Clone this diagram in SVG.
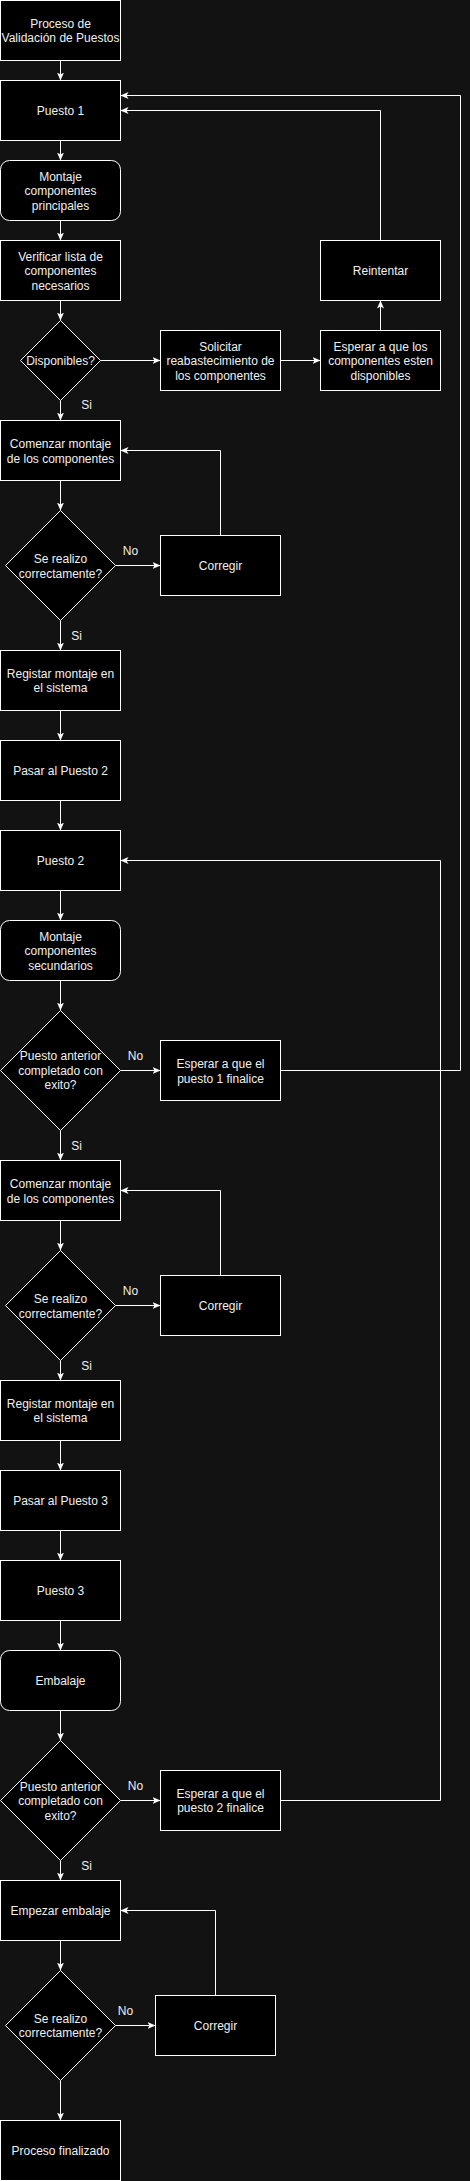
<svg xmlns="http://www.w3.org/2000/svg" width="470" height="2181" viewBox="0 0 470 2181">
<style>
.n{fill:#000000;stroke:#ffffff;stroke-width:1}
.t{font-family:"Liberation Sans",Arial,sans-serif;font-size:12px;fill:#f0f0f0;text-anchor:middle}
.c{fill:none;stroke:#ffffff;stroke-width:1}
.a{marker-end:url(#arr)}
</style>
<defs>
<marker id="arr" viewBox="0 0 8 8" refX="8" refY="4" markerWidth="8" markerHeight="8" orient="auto" markerUnits="userSpaceOnUse">
<path d="M0,0.5 L8,4 L0,7.5 L2,4 Z" fill="#ffffff"/>
</marker>
</defs>
<rect x="0" y="0" width="470" height="2181" fill="#121212"/>
<g transform="translate(0.5,0.5)">
<g id="connectors">
<path class="c a" d="M60,60 V80"/>
<path class="c a" d="M60,140 V160"/>
<path class="c a" d="M60,220 V240"/>
<path class="c a" d="M60,300 V320"/>
<path class="c a" d="M100,360 H160"/>
<path class="c a" d="M280,360 H320"/>
<path class="c a" d="M380,330 V300"/>
<path class="c a" d="M380,240 V110 H120"/>
<path class="c a" d="M60,400 V420"/>
<path class="c a" d="M60,480 V510"/>
<path class="c a" d="M115,565 H160"/>
<path class="c a" d="M220,535 V450 H120"/>
<path class="c a" d="M60,620 V650"/>
<path class="c a" d="M60,710 V740"/>
<path class="c a" d="M60,800 V830"/>
<path class="c a" d="M60,890 V920"/>
<path class="c a" d="M60,980 V1010"/>
<path class="c a" d="M120,1070 H160"/>
<path class="c a" d="M280,1070 H460 V95 H120"/>
<path class="c a" d="M60,1130 V1160"/>
<path class="c a" d="M60,1220 V1250"/>
<path class="c a" d="M115,1305 H160"/>
<path class="c a" d="M220,1275 V1190 H120"/>
<path class="c a" d="M60,1360 V1380"/>
<path class="c a" d="M60,1440 V1470"/>
<path class="c a" d="M60,1530 V1560"/>
<path class="c a" d="M60,1620 V1650"/>
<path class="c a" d="M60,1710 V1740"/>
<path class="c a" d="M120,1800 H160"/>
<path class="c a" d="M280,1800 H440 V860 H120"/>
<path class="c a" d="M60,1860 V1880"/>
<path class="c a" d="M60,1940 V1970"/>
<path class="c a" d="M115,2025 H155"/>
<path class="c a" d="M215,1995 V1910 H120"/>
<path class="c a" d="M60,2080 V2120"/>
<text class="t" x="86" y="408">Si</text>
<text class="t" x="130" y="554">No</text>
<text class="t" x="76" y="639">Si</text>
<text class="t" x="135" y="1059">No</text>
<text class="t" x="76" y="1149">Si</text>
<text class="t" x="130" y="1294">No</text>
<text class="t" x="86" y="1369">Si</text>
<text class="t" x="135" y="1789">No</text>
<text class="t" x="86" y="1869">Si</text>
<text class="t" x="125" y="2014">No</text>
</g>
<g id="start"><rect class="n" x="0" y="0" width="120" height="60"/><text class="t" x="60" y="27">Proceso de</text><text class="t" x="60" y="41.5">Validación de Puestos</text></g>
<g id="puesto1"><rect class="n" x="0" y="80" width="120" height="60"/><text class="t" x="60" y="114">Puesto 1</text></g>
<g id="montaje1"><rect class="n" x="0" y="160" width="120" height="60" rx="9"/><text class="t" x="60" y="180">Montaje</text><text class="t" x="60" y="194.5">componentes</text><text class="t" x="60" y="209">principales</text></g>
<g id="verificar"><rect class="n" x="0" y="240" width="120" height="60"/><text class="t" x="60" y="260">Verificar lista de</text><text class="t" x="60" y="274.5">componentes</text><text class="t" x="60" y="289">necesarios</text></g>
<g id="disponibles"><polygon class="n" points="60,320 100,360 60,400 20,360"/><text class="t" x="60" y="364">Disponibles?</text></g>
<g id="solicitar"><rect class="n" x="160" y="330" width="120" height="60"/><text class="t" x="220" y="350">Solicitar</text><text class="t" x="220" y="364.5">reabastecimiento de</text><text class="t" x="220" y="379">los componentes</text></g>
<g id="esperar-comp"><rect class="n" x="320" y="330" width="120" height="60"/><text class="t" x="380" y="350">Esperar a que los</text><text class="t" x="380" y="364.5">componentes esten</text><text class="t" x="380" y="379">disponibles</text></g>
<g id="reintentar"><rect class="n" x="320" y="240" width="120" height="60"/><text class="t" x="380" y="274">Reintentar</text></g>
<g id="comenzar1"><rect class="n" x="0" y="420" width="120" height="60"/><text class="t" x="60" y="447">Comenzar montaje</text><text class="t" x="60" y="462">de los componentes</text></g>
<g id="check1"><polygon class="n" points="60,510 115,565 60,620 5,565"/><text class="t" x="60" y="562">Se realizo</text><text class="t" x="60" y="577">correctamente?</text></g>
<g id="corregir1"><rect class="n" x="160" y="535" width="120" height="60"/><text class="t" x="220" y="569">Corregir</text></g>
<g id="registrar1"><rect class="n" x="0" y="650" width="120" height="60"/><text class="t" x="60" y="677">Registar montaje en</text><text class="t" x="60" y="691.5">el sistema</text></g>
<g id="pasar2"><rect class="n" x="0" y="740" width="120" height="60"/><text class="t" x="60" y="774">Pasar al Puesto 2</text></g>
<g id="puesto2"><rect class="n" x="0" y="830" width="120" height="60"/><text class="t" x="60" y="864">Puesto 2</text></g>
<g id="montaje2"><rect class="n" x="0" y="920" width="120" height="60" rx="9"/><text class="t" x="60" y="940">Montaje</text><text class="t" x="60" y="954.5">componentes</text><text class="t" x="60" y="969">secundarios</text></g>
<g id="anterior1"><polygon class="n" points="60,1010 120,1070 60,1130 0,1070"/><text class="t" x="60" y="1059.5">Puesto anterior</text><text class="t" x="60" y="1074">completado con</text><text class="t" x="60" y="1088.5">exito?</text></g>
<g id="esperar1"><rect class="n" x="160" y="1040" width="120" height="60"/><text class="t" x="220" y="1067">Esperar a que el</text><text class="t" x="220" y="1082">puesto 1 finalice</text></g>
<g id="comenzar2"><rect class="n" x="0" y="1160" width="120" height="60"/><text class="t" x="60" y="1187">Comenzar montaje</text><text class="t" x="60" y="1202">de los componentes</text></g>
<g id="check2"><polygon class="n" points="60,1250 115,1305 60,1360 5,1305"/><text class="t" x="60" y="1302">Se realizo</text><text class="t" x="60" y="1317">correctamente?</text></g>
<g id="corregir2"><rect class="n" x="160" y="1275" width="120" height="60"/><text class="t" x="220" y="1309">Corregir</text></g>
<g id="registrar2"><rect class="n" x="0" y="1380" width="120" height="60"/><text class="t" x="60" y="1407">Registar montaje en</text><text class="t" x="60" y="1421.5">el sistema</text></g>
<g id="pasar3"><rect class="n" x="0" y="1470" width="120" height="60"/><text class="t" x="60" y="1504">Pasar al Puesto 3</text></g>
<g id="puesto3"><rect class="n" x="0" y="1560" width="120" height="60"/><text class="t" x="60" y="1594">Puesto 3</text></g>
<g id="embalaje"><rect class="n" x="0" y="1650" width="120" height="60" rx="9"/><text class="t" x="60" y="1684">Embalaje</text></g>
<g id="anterior2"><polygon class="n" points="60,1740 120,1800 60,1860 0,1800"/><text class="t" x="60" y="1790">Puesto anterior</text><text class="t" x="60" y="1804.5">completado con</text><text class="t" x="60" y="1819">exito?</text></g>
<g id="esperar2"><rect class="n" x="160" y="1770" width="120" height="60"/><text class="t" x="220" y="1797">Esperar a que el</text><text class="t" x="220" y="1811.5">puesto 2 finalice</text></g>
<g id="empezar"><rect class="n" x="0" y="1880" width="120" height="60"/><text class="t" x="60" y="1914">Empezar embalaje</text></g>
<g id="check3"><polygon class="n" points="60,1970 115,2025 60,2080 5,2025"/><text class="t" x="60" y="2022">Se realizo</text><text class="t" x="60" y="2036.5">correctamente?</text></g>
<g id="corregir3"><rect class="n" x="155" y="1995" width="120" height="60"/><text class="t" x="215" y="2029">Corregir</text></g>
<g id="fin"><rect class="n" x="0" y="2120" width="120" height="60"/><text class="t" x="60" y="2154">Proceso finalizado</text></g>
</g>
</svg>
